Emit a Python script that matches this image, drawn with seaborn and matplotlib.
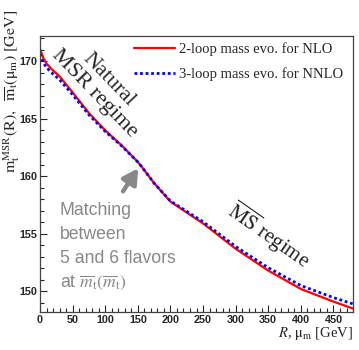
import matplotlib
matplotlib.use('Agg')
import matplotlib.pyplot as plt
import seaborn as sns
import pandas as pd

# scale R / mu_m [GeV]
scale = [0, 5, 10, 20, 30, 50, 75, 100, 125, 150, 155, 175, 200, 250, 300, 350, 400, 450, 480]
# 2-loop evolution (NLO)
mass_nlo = [171.1, 170.3, 169.8, 169.2, 168.7, 167.3, 165.5, 164.0, 162.7, 161.25, 160.9,
            159.4, 157.8, 155.9, 153.7, 151.8, 150.2, 149.1, 148.5]
# 3-loop evolution (NNLO)
mass_nnlo = [170.65, 169.9, 169.45, 168.9, 168.4, 167.1, 165.35, 163.9, 162.65, 161.25, 160.9,
             159.4, 157.85, 156.05, 153.9, 152.05, 150.5, 149.45, 148.9]
labels = ['2-loop mass evo. for NLO', '3-loop mass evo. for NNLO']

df = pd.DataFrame({'R': scale, 'nlo': mass_nlo, 'nnlo': mass_nnlo})

sns.set_style('ticks')
plt.rcParams['font.family'] = ['Liberation Serif', 'DejaVu Serif']
plt.rcParams['mathtext.fontset'] = 'stix'

fig = plt.figure(figsize=(3.59, 3.5), dpi=100)
ax = fig.add_axes([0.1114, 0.1086, 0.872, 0.7884])

sns.lineplot(data=df, x='R', y='nlo', color='red', lw=1.6, ax=ax, label=labels[0])
sns.lineplot(data=df, x='R', y='nnlo', color='blue', lw=2.0, linestyle=(0, (1, 1)), ax=ax, label=labels[1])

ax.set_xlim(0, 480)
ax.set_ylim(148.2, 172.2)
ax.set_xticks(range(0, 500, 50))
ax.set_xticks(range(0, 481, 10), minor=True)
ax.set_yticks(range(150, 171, 5))
ax.set_yticks(range(149, 173, 1), minor=True)
ax.tick_params(which='major', direction='in', length=5, width=0.8, top=False, right=False,
               labelsize=7.8, pad=2)
ax.tick_params(which='minor', direction='in', length=2.8, width=0.8, top=False, right=False)
for lab in ax.get_xticklabels() + ax.get_yticklabels():
    lab.set_family('Liberation Sans')
    lab.set_fontweight('bold')
for sp in ax.spines.values():
    sp.set_visible(True)
    sp.set_color('#444444')
    sp.set_linewidth(0.9)

ax.set_xlabel('')
ax.set_ylabel('')
# ROOT style: titles aligned to the axis ends
fig.text(0.031, 0.972, r'$\mathrm{m_t^{MSR}(R),\ \ \overline{m}_t(\mu_m)\ [GeV]}$', rotation=90,
         ha='center', va='top', fontsize=11.5)
fig.text(0.983, 0.022, r'$R$, $\mathrm{\mu_m}$ [GeV]', ha='right', va='bottom', fontsize=10.5)

ax.legend(loc='upper left', frameon=False, fontsize=10.5, handlelength=2.8, handletextpad=0.3,
          bbox_to_anchor=(0.30, 0.978), borderaxespad=0, borderpad=0, labelspacing=0.8)

ax.text(94, 167.8, 'Natural\nMSR regime', rotation=-46, ha='center', va='center',
        fontsize=16, linespacing=1.05, rotation_mode='anchor')
ax.text(351, 154.85, r'$\overline{\rm MS}$ regime', rotation=-35, ha='center', va='center',
        fontsize=15, rotation_mode='anchor')
ax.text(30, 153.85, 'Matching\nbetween\n5 and 6 flavors\nat $\\overline{m}_{\\rm t}(\\overline{m}_{\\rm t})$',
        ha='left', va='center', fontsize=12.7, color='#888888', family='Liberation Sans',
        linespacing=1.52)
ax.annotate('', xy=(153, 160.9), xytext=(125, 158.5),
            arrowprops=dict(arrowstyle='-|>,head_width=0.5,head_length=0.9', color='#888888', lw=3.2))

fig.savefig('out.png', dpi=100)
